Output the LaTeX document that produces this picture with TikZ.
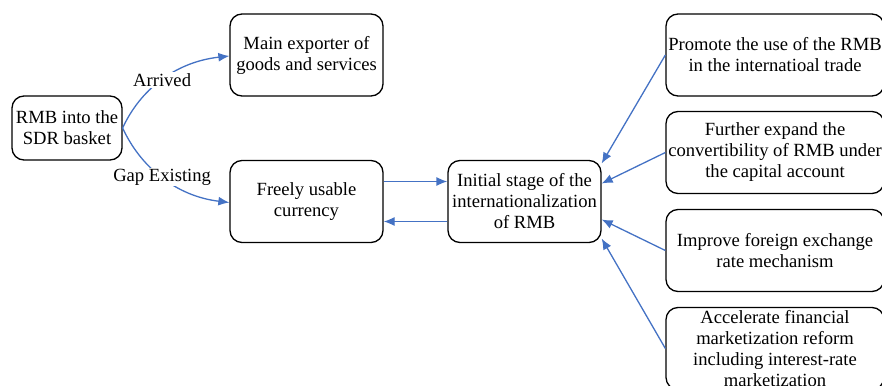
\documentclass[tikz,border=0pt]{standalone}
\usepackage{fontspec}
\setmainfont{Liberation Serif}
\usetikzlibrary{arrows.meta}
\definecolor{arrowblue}{RGB}{68,114,196}
\tikzstyle{box}=[draw,line width=1.3pt,rounded corners=12pt,align=center,inner sep=1pt,font=\fontsize{18.6}{21}\selectfont]
\tikzstyle{smallbox}=[box,minimum width=153pt,minimum height=82pt]
\tikzstyle{widebox}=[box,minimum width=218pt,minimum height=82pt]
\tikzstyle{edge} = [draw,line width=1.3pt,arrowblue,-{Latex[length=11pt,width=9pt]}]
\tikzstyle{weight} = [fill=white,text=black,inner sep=1pt,font=\fontsize{18.6}{21}\selectfont]

\begin{document}
\begin{tikzpicture}[x=1pt,y=-1pt]
    \useasboundingbox (0,0) rectangle (882,385);

    \node[box,minimum width=110pt,minimum height=64pt] (sdr) at (67,128) {RMB into the\\SDR basket};
    \foreach \pos/ \name/ \txt in {{(306.5,55)/exporter/{Main exporter of\\goods and services}},
        {(306.5,201.5)/usable/{Freely usable\\currency}},
        {(524.5,201.5)/initial/{Initial stage of the\\internationalization\\of RMB}}}
        \node[smallbox] (\name) at \pos {\txt};

    \foreach \pos/ \name/ \txt in {{(775,55)/promote/{Promote the use of the RMB\\in the internatioal trade}},
        {(775,152.5)/expand/{Further expand the\\convertibility of RMB under\\the capital account}},
        {(775,250.5)/improve/{Improve foreign exchange\\rate mechanism}},
        {(775,348.5)/reform/{Accelerate financial\\marketization reform\\including interest-rate\\marketization}}}
        \node[widebox] (\name) at \pos {\txt};

    % branches out of the SDR box
    \path[edge] (sdr.east) .. controls (140,90) and (175,62) .. node[weight] {Arrived} ([yshift=-1pt]exporter.west);
    \path[edge] (sdr.east) .. controls (140,166) and (175,196) .. node[weight] {Gap Existing} ([yshift=-1pt]usable.west);

    \path[edge] ([yshift=20pt]usable.east) -- ([yshift=20pt]initial.west);
    \path[edge] ([yshift=-20pt]initial.west) -- ([yshift=-20pt]usable.east);

    \foreach \source/ \shift in {promote/38, expand/18, improve/-18, reform/-37}
        \path[edge] (\source.west) -- ([yshift=\shift pt]initial.east);

\end{tikzpicture}
\end{document}
